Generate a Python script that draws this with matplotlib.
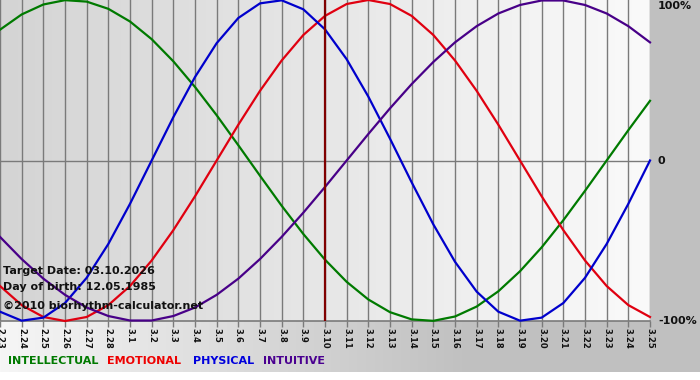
import numpy as np
import matplotlib
matplotlib.use("Agg")
import matplotlib.pyplot as plt
from matplotlib.colors import to_rgb

# ---------------- data ----------------
dates = ["2.23", "2.24", "2.25", "2.26", "2.27", "2.28",
         "3.1", "3.2", "3.3", "3.4", "3.5", "3.6", "3.7", "3.8", "3.9", "3.10",
         "3.11", "3.12", "3.13", "3.14", "3.15", "3.16", "3.17", "3.18", "3.19",
         "3.20", "3.21", "3.22", "3.23", "3.24", "3.25"]

physical = [-0.942, -0.998, -0.979, -0.888, -0.731, -0.520, -0.270, 0.000,
            0.270, 0.520, 0.731, 0.888, 0.979, 0.998, 0.942, 0.817,
            0.631, 0.398, 0.136, -0.136, -0.398, -0.631, -0.817, -0.942,
            -0.998, -0.979, -0.888, -0.731, -0.520, -0.270, 0.000]

emotional = [-0.782, -0.901, -0.975, -1.000, -0.975, -0.901, -0.782, -0.623,
             -0.434, -0.223, 0.000, 0.223, 0.434, 0.623, 0.782, 0.901,
             0.975, 1.000, 0.975, 0.901, 0.782, 0.623, 0.434, 0.223,
             0.000, -0.223, -0.434, -0.623, -0.782, -0.901, -0.975]

intellectual = [0.815, 0.910, 0.972, 0.999, 0.990, 0.945, 0.866, 0.756,
                0.618, 0.458, 0.282, 0.095, -0.095, -0.282, -0.458, -0.618,
                -0.756, -0.866, -0.945, -0.990, -0.999, -0.972, -0.910, -0.815,
                -0.690, -0.541, -0.372, -0.189, 0.000, 0.189, 0.372]

intuitive = [-0.476, -0.614, -0.736, -0.837, -0.916, -0.969, -0.997, -0.997,
             -0.969, -0.916, -0.837, -0.736, -0.614, -0.476, -0.325, -0.165,
             0.000, 0.165, 0.325, 0.476, 0.614, 0.736, 0.837, 0.916,
             0.969, 0.997, 0.997, 0.969, 0.916, 0.837, 0.736]

target_date = "3.10"
y_labels = ["100%", "0", "-100%"]
y_values = [1.0, 0.0, -1.0]
legend_names = ["INTELLECTUAL", "EMOTIONAL", "PHYSICAL", "INTUITIVE"]
info_lines = ["Target Date: 03.10.2026", "Day of birth: 12.05.1985",
              "\u00a92010 biorhythm-calculator.net"]

# ---------------- styling ----------------
W, H = 700, 380
PL, PR, PT, PB = 0, 650, 0, 321
col_int = "#007a00"
col_emo = "#e00010"
col_phy = "#0000cc"
col_itu = "#480088"

fig = plt.figure(figsize=(W / 100, H / 100), dpi=100)

# figure background gradient
bg = np.ones((H, W, 3))
xs = np.arange(W)
light = np.array(to_rgb("#f6f6f6"))
dark = np.array(to_rgb("#c0c0c0"))
t = np.clip(xs / 470.0, 0, 1)[:, None]
row = light * (1 - t) + dark * t
bg[:, :, :] = row[None, :, :]
bg[372:, :, :] = 1.0
bgax = fig.add_axes([0, 0, 1, 1])
bgax.imshow(bg, extent=[0, W, H, 0], aspect="auto", interpolation="bilinear")
bgax.set_xlim(0, W)
bgax.set_ylim(H, 0)
bgax.axis("off")

ax = fig.add_axes([PL / W, 1 - PB / H, (PR - PL) / W, (PB - PT) / H])
n = len(dates)
x = np.arange(n)
ax.set_xlim(0, n - 1)
ax.set_ylim(-1.0, 1.0)

# plot area gradient
g = np.linspace(0, 1, 256)
c0 = np.array(to_rgb("#d4d4d4"))
c1 = np.array(to_rgb("#fafafa"))
grad = (c0[None, :] * (1 - g[:, None]) + c1[None, :] * g[:, None])[None, :, :]
ax.imshow(grad, extent=[0, n - 1, -1, 1], aspect="auto", zorder=0,
          interpolation="bilinear")

for xi in x:
    ax.axvline(xi, color="#7a7a7a", lw=1.0, zorder=1)
ax.axhline(0, color="#7a7a7a", lw=1.0, zorder=1)

for vals, c in [(intellectual, col_int), (emotional, col_emo),
                (physical, col_phy), (intuitive, col_itu)]:
    ax.plot(x, vals, color=c, lw=1.6, zorder=3, clip_on=False,
            solid_joinstyle="round")

ax.axvline(dates.index(target_date), color="#800000", lw=1.6, zorder=4)

for s in ax.spines.values():
    s.set_visible(False)
ax.axhline(-1.0, color="#7a7a7a", lw=1.2, zorder=2, clip_on=False)

ax.set_xticks(x)
ax.set_xticklabels(dates, rotation=-90, fontsize=6, color="#111111",
                   fontweight="bold")
ax.tick_params(axis="x", length=4, width=1, color="#7a7a7a", pad=1)
ax.set_yticks([])

for lab, v in zip(y_labels, y_values):
    off = {1.0: -5, 0.0: 0, -1.0: 0}[v]
    ax.annotate(lab, xy=(1, v), xycoords=("axes fraction", "data"),
                xytext=(8, off - 1 if v == 1.0 else 0), textcoords="offset pixels",
                ha="left", va="center", fontsize=8, fontweight="bold",
                color="#111111", annotation_clip=False)

for i, line in enumerate(info_lines):
    ypix = [271, 287, 306][i]
    fig.text(3 / W, 1 - ypix / H, line, ha="left", va="center", fontsize=8,
             fontweight="bold", color="#111111", zorder=10)

leg_x = [8, 107, 193, 263]
for name, c, lx in zip(legend_names, [col_int, "#ee0000", "#0000dd", "#4a0090"], leg_x):
    fig.text(lx / W, 1 - 361 / H, name, ha="left", va="center", fontsize=8,
             fontweight="bold", color=c)

fig.savefig("out.png", dpi=100)
